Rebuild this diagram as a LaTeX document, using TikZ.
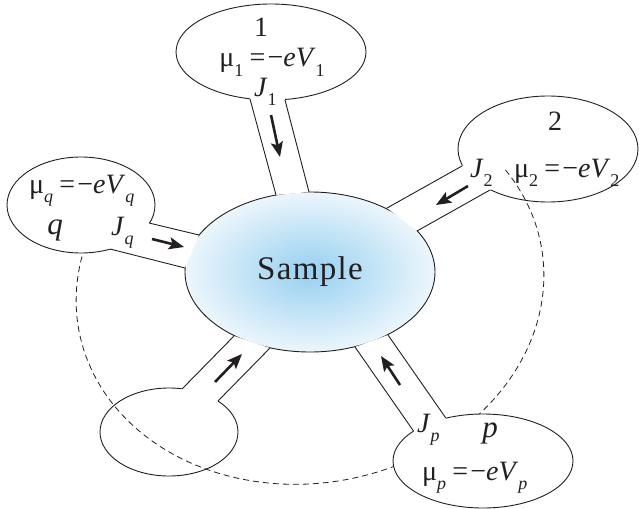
\documentclass[tikz,border=0pt]{standalone}
\usepackage{fontspec}
\setmainfont{Liberation Serif}
\usetikzlibrary{arrows.meta, calc, shapes.geometric}
\definecolor{tinta}{RGB}{35,31,32}
\definecolor{azulcentro}{RGB}{150,208,240}
\definecolor{azulborda}{RGB}{236,246,252}

\newcommand{\ind}[1]{\raisebox{-0.33em}{\fontsize{18}{18}\selectfont #1}}
\newcommand{\igual}{\hspace{0.22em}=\hspace{0.08em}−}

\begin{document}
\begin{tikzpicture}[x=1pt, y=-1pt,
  linha/.style={draw=tinta, line width=0.9pt},
  terminal/.style={linha, fill=white, ellipse, inner sep=0pt},
  seta/.style={-{Stealth[length=15pt, width=12pt, inset=3pt]}, line width=2.6pt, draw=tinta},
  rotulo/.style={font=\fontsize{28}{28}\selectfont, text=tinta, inner sep=0pt},
  tracejado/.style={draw=tinta, line width=0.8pt, dash pattern=on 6pt off 4pt}
]
\useasboundingbox (0,0) rectangle (639,508);

% amostra
\node[linha, ellipse, inner color=azulcentro, outer color=azulborda,
      minimum width=250pt, minimum height=160pt, font=\fontsize{33}{33}\selectfont,
      text=tinta] (amostra) at (310,272) {S\hspace{0.04em}a\hspace{0.04em}m\hspace{0.04em}p\hspace{0.04em}l\hspace{0.04em}e};

% terminais 1, 2 e o de baixo
\node[terminal, minimum width=190pt, minimum height=96pt]  (t1) at (271,52) {};
\node[terminal, minimum width=180pt, minimum height=106pt] (t2) at (548,149) {};
\node[terminal, minimum width=138pt, minimum height=88pt]  (tb) at (169,432) {};

% pontas dos fios
\coordinate (l1a) at (250,99);   \coordinate (l1b) at (276,195);
\coordinate (r1a) at (285,100);  \coordinate (r1b) at (309,192);
\coordinate (l2a) at (462,166);  \coordinate (l2b) at (387,208);
\coordinate (r2a) at (490,190);  \coordinate (r2b) at (417,231);
\coordinate (lba) at (182,389);  \coordinate (lbb) at (234,336);
\coordinate (rba) at (218,401);  \coordinate (rbb) at (270,348);
\coordinate (lqa) at (149,223);  \coordinate (lqb) at (199,235);
\coordinate (rqa) at (110,249);  \coordinate (rqb) at (185,268);
\coordinate (lpa) at (413.5,431); \coordinate (lpb) at (355,347);
\coordinate (rpa) at (445.8,418); \coordinate (rpb) at (388,335);

\foreach \f in {1,2,b}{
  \fill[white] ($(l\f a)!-4pt!(l\f b)$) -- (l\f b) -- (r\f b) -- ($(r\f a)!-4pt!(r\f b)$) -- cycle;
  \draw[linha] (l\f a) -- (l\f b) (r\f a) -- (r\f b);
}

% contorno tracejado
\begin{scope}[shift={(310,288)}, rotate=10]
  \draw[tracejado] plot[domain=-25:202, samples=120, variable=\t]
    ({235*cos(\t)}, {195*sin(\t)});
\end{scope}

% terminais q e p
\node[terminal, minimum width=148pt, minimum height=96pt] (tq) at (81,205) {};
\node[terminal, minimum width=180pt, minimum height=94pt] (tp) at (483,461) {};
\foreach \f in {q,p}{
  \fill[white] ($(l\f a)!-4pt!(l\f b)$) -- (l\f b) -- (r\f b) -- ($(r\f a)!-4pt!(r\f b)$) -- cycle;
  \draw[linha] (l\f a) -- (l\f b) (r\f a) -- (r\f b);
}

% correntes
\coordinate (s1a) at (271,115); \coordinate (s1b) at (280,157);
\coordinate (s2a) at (468,186); \coordinate (s2b) at (436,205);
\coordinate (sqa) at (152,239); \coordinate (sqb) at (184,247);
\coordinate (sba) at (215,382); \coordinate (sbb) at (242,354);
\coordinate (spa) at (400,385); \coordinate (spb) at (381,356);
\foreach \f in {1,2,q,b,p}
  \draw[seta] (s\f a) -- (s\f b);

% rotulos
\node[rotulo, anchor=base] (n1) at (261,37) {1};
\node[rotulo, anchor=base] (m1) at (272,67) {μ\ind{1}\igual\textit{eV}\ind{1}};
\node[rotulo, anchor=base west] (j1) at (254,96) {\textit{J}\ind{1}};

\node[rotulo, anchor=base] (n2) at (555,131) {2};
\node[rotulo, anchor=base west] (j2) at (470,177) {\textit{J}\ind{2}};
\node[rotulo, anchor=base west] (m2) at (514,177) {μ\ind{2}\igual\textit{eV}\ind{2}};

\node[rotulo, anchor=base west] (mq) at (29,193) {μ\ind{\textit{q}}\igual\textit{eV}\ind{\textit{q}}};
\node[rotulo, font=\fontsize{31}{31}\selectfont, anchor=base] (nq) at (55,234) {\textit{q}};
\node[rotulo, anchor=base west] (jq) at (111,235) {\textit{J}\ind{\textit{q}}};

\node[rotulo, anchor=base west] (jp) at (417,432) {\textit{J}\ind{\textit{p}}};
\node[rotulo, font=\fontsize{31}{31}\selectfont, anchor=base] (np) at (490,437) {\textit{p}};
\node[rotulo, anchor=base west] (mp) at (422,480) {μ\ind{\textit{p}}\igual\textit{eV}\ind{\textit{p}}};
\end{tikzpicture}
\end{document}
